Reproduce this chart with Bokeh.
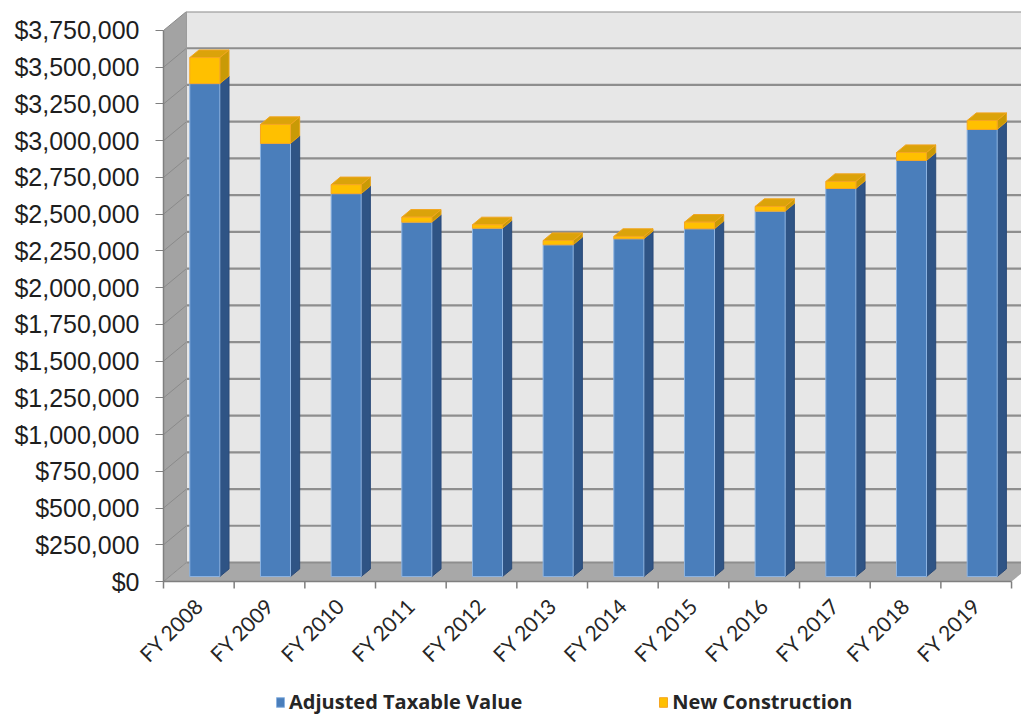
from math import pi
from bokeh.plotting import figure
from bokeh.models import Range1d, FixedTicker, NumeralTickFormatter, Legend, LegendItem
from bokeh.core.properties import value
from bokeh.embed import file_html
from bokeh.resources import INLINE

categories = ["FY 2008", "FY 2009", "FY 2010", "FY 2011", "FY 2012", "FY 2013",
              "FY 2014", "FY 2015", "FY 2016", "FY 2017", "FY 2018", "FY 2019"]
adjusted_taxable_value = [3355000, 2948000, 2606000, 2412000, 2371000, 2258000,
                          2299000, 2367000, 2487000, 2641000, 2832000, 3043000]
new_construction = [177000, 129000, 61000, 34000, 23000, 29000,
                    16000, 45000, 32000, 48000, 54000, 61000]
y_ticks = [0, 250000, 500000, 750000, 1000000, 1250000, 1500000, 1750000, 2000000,
           2250000, 2500000, 2750000, 3000000, 3250000, 3500000, 3750000]

# 3D projection styling (depth offset in data units)
DX = 0.325
DY = 129300
BAR_W = 0.425
F0 = 0.26
FD = 0.40

n = len(categories)
y_top = y_ticks[-1]
x_end = n + DX + 1
UNIT = 70.67                        # pixels per category
PX = 570.0 / (y_top + DY)          # pixels per dollar
y_bottom = -134.0 / PX             # space below the floor for labels and legend

p = figure(frame_width=1021, frame_height=704,
           x_range=Range1d(-163.0 / UNIT, 858.0 / UNIT), y_range=Range1d(y_bottom, y_top + DY),
           output_backend="svg", toolbar_location=None,
           min_border_left=0, min_border_right=0, min_border_top=11, min_border_bottom=0)
p.xgrid.visible = False
p.ygrid.visible = False
p.xaxis.visible = False
p.outline_line_color = None
p.background_fill_color = "white"

# walls
p.patch([DX, x_end, x_end, DX], [DY, DY, y_top + DY, y_top + DY], fill_color="#e7e7e7", line_color=None)
p.patch([0, DX, DX, 0], [0, DY, y_top + DY, y_top], fill_color="#a3a3a3", line_color=None)
p.patch([0, n, n + DX, DX], [0, 0, DY, DY], fill_color="#a8a8a8", line_color=None)

# gridlines on back wall and side wall
p.segment(x0=[DX] * len(y_ticks), y0=[v + DY for v in y_ticks], x1=[x_end] * len(y_ticks),
          y1=[v + DY for v in y_ticks], line_color="#8e8e8e", line_width=2.2)
p.segment(x0=[0] * len(y_ticks), y0=y_ticks, x1=[DX] * len(y_ticks),
          y1=[v + DY for v in y_ticks], line_color="#8a8a8a", line_width=1)
p.segment(x0=[DX], y0=[DY], x1=[DX], y1=[y_top + DY], line_color="#9a9a9a", line_width=1)

# bars
def faces(bottoms, tops):
    sx, sy, tx, ty = [], [], [], []
    lefts, rights, b0, b1 = [], [], [], []
    for i, (b, t) in enumerate(zip(bottoms, tops)):
        xl = i + 0.5 + F0 * DX - BAR_W / 2
        xr = xl + BAR_W
        y0 = F0 * DY + b
        y1 = F0 * DY + t
        lefts.append(xl); rights.append(xr); b0.append(y0); b1.append(y1)
        sx.append([xr, xr + FD * DX, xr + FD * DX, xr])
        sy.append([y0, y0 + FD * DY, y1 + FD * DY, y1])
        tx.append([xl, xr, xr + FD * DX, xl + FD * DX])
        ty.append([y1, y1, y1 + FD * DY, y1 + FD * DY])
    return lefts, rights, b0, b1, sx, sy, tx, ty

tot = [a + c for a, c in zip(adjusted_taxable_value, new_construction)]
l, r, b0, b1, sx, sy, tx, ty = faces([0] * n, adjusted_taxable_value)
p.patches(sx, sy, fill_color="#2f5485", line_color="#2a4a78", line_width=1)
blue = p.quad(left=l, right=r, bottom=b0, top=b1, fill_color="#4a7ebb", line_color="#8db4e2", line_width=1)

l, r, b0, b1, sx, sy, tx, ty = faces(adjusted_taxable_value, tot)
p.patches(sx, sy, fill_color="#c99a06", line_color="#e8a21a", line_width=1)
p.patches(tx, ty, fill_color="#dba30a", line_color="#f2a51f", line_width=1)
orange = p.quad(left=l, right=r, bottom=b0, top=b1, fill_color="#ffc000", line_color="#f5a623", line_width=1)

# y axis, pinned at the front-left corner of the chart box
ya = p.yaxis[0]
ya.fixed_location = 0
ya.ticker = FixedTicker(ticks=y_ticks)
ya.formatter = NumeralTickFormatter(format="$0,0")
ya.bounds = (0, y_top)
ya.axis_line_color = "#7f7f7f"
ya.axis_line_width = 1.5
ya.major_tick_line_color = "#7f7f7f"
ya.major_tick_out = 8
ya.major_tick_in = 0
ya.minor_tick_line_color = None
ya.major_label_standoff = 16
ya.major_label_text_font = "Liberation Sans"
ya.major_label_text_font_size = "25px"
ya.major_label_text_color = "#1e1e1e"

# category (x) axis drawn in the frame: line, boundary ticks, rotated labels
bounds = list(range(n + 1))
centers = [i + 0.5 for i in range(n)]
p.segment(x0=[0], y0=[0], x1=[n], y1=[0], line_color="#7f7f7f", line_width=1.5)
p.segment(x0=bounds, y0=[0] * len(bounds), x1=bounds, y1=[-7 / PX] * len(bounds),
          line_color="#7f7f7f", line_width=1.5)
p.text(x=centers, y=[-20 / PX] * n, text=categories, angle=pi / 4,
       text_align="right", text_baseline="middle",
       text_font=value("Lato"), text_font_size="21px", text_color="#262626")

legend = Legend(items=[LegendItem(label="Adjusted Taxable Value", renderers=[blue]),
                       LegendItem(label="New Construction", renderers=[orange])],
                orientation="horizontal", location=(275, 0), spacing=136,
                glyph_width=10, glyph_height=12, label_standoff=4,
                padding=0, margin=0, border_line_color=None, background_fill_alpha=0,
                label_text_font="Open Sans", label_text_font_style="bold",
                label_text_font_size="20px", label_text_color="#262626")
p.add_layout(legend, "center")

open("out.html", "w").write(file_html(p, INLINE))
